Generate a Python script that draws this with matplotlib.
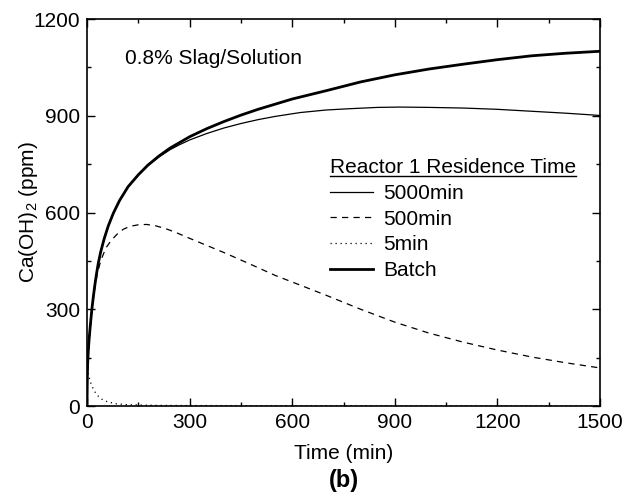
import matplotlib
matplotlib.use("Agg")
import matplotlib.pyplot as plt
from matplotlib.lines import Line2D

plt.rcParams['font.family'] = ['Liberation Sans', 'DejaVu Sans']
plt.rcParams['mathtext.default'] = 'regular'

# values (time in min, Ca(OH)2 in ppm)
t_batch = [0, 1, 2, 4, 6, 8, 11, 14, 18, 22, 27, 33, 40, 50, 62, 77, 95, 120,
           150, 178, 210, 243, 300, 350, 400, 450, 500, 550, 600, 700, 800,
           900, 1000, 1100, 1200, 1300, 1400, 1500]
c_batch = [0, 100, 135, 175, 205, 230, 265, 298, 335, 368, 405, 443, 478, 518,
           558, 598, 637, 680, 717, 747, 775, 800, 835, 860, 882, 902, 920,
           936, 952, 978, 1005, 1027, 1045, 1060, 1074, 1086, 1094, 1100]

t_5000 = [0, 1, 2, 4, 6, 8, 11, 14, 18, 22, 27, 33, 40, 50, 62, 77, 95, 120,
          150, 178, 210, 243, 270, 300, 350, 400, 450, 500, 550, 623, 700,
          769, 850, 915, 1000, 1100, 1200, 1300, 1400, 1500]
c_5000 = [0, 100, 135, 175, 205, 230, 265, 298, 335, 368, 405, 443, 478, 518,
          558, 598, 637, 680, 716, 745, 772, 795, 810, 825, 845, 862, 876,
          888, 898, 910, 918, 922, 926, 927, 926, 924, 920, 914, 908, 901]

t_500 = [0, 2, 5, 10, 15, 22, 30, 40, 55, 72, 90, 106, 125, 150, 174, 200,
         230, 260, 300, 350, 400, 477, 550, 623, 700, 800, 900, 1000, 1100,
         1198, 1300, 1400, 1500]
c_500 = [0, 120, 185, 250, 300, 360, 410, 450, 490, 515, 535, 548, 557, 562,
         563, 559, 550, 538, 520, 498, 476, 440, 405, 375, 343, 300, 260, 226,
         198, 174, 152, 134, 118]

t_5 = [0, 1, 2, 3, 5, 8, 12, 18, 25, 35, 45, 60, 85, 120, 200, 300, 600,
       1000, 1500]
c_5 = [0, 80, 105, 105, 95, 82, 68, 54, 40, 28, 20, 13, 7, 4, 2, 1.5, 1,
       0.7, 0.5]

fig = plt.figure(figsize=(6.31, 5.01), dpi=100)
ax = fig.add_axes([0.1379, 0.1896, 0.8131, 0.7724])

ax.plot(t_5000, c_5000, color='black', lw=0.9, label='5000min')
ax.plot(t_500, c_500, color='black', lw=0.9, ls=(0, (5, 4.2)), label='500min')
ax.plot(t_5, c_5, color='black', lw=0.9, ls=(0, (1, 3)), label='5min')
ax.plot(t_batch, c_batch, color='black', lw=2.0, label='Batch')

ax.set_xlim(0, 1500)
ax.set_ylim(0, 1200)
ax.set_xticks([0, 300, 600, 900, 1200, 1500])
ax.set_xticks(range(150, 1500, 300), minor=True)
ax.set_yticks([0, 300, 600, 900, 1200])
ax.set_yticks(range(150, 1200, 300), minor=True)
ax.tick_params(which='both', direction='in', top=True, right=True,
               labelsize=15, width=1.0)
ax.tick_params(which='major', length=6, pad=5)
ax.tick_params(which='minor', length=3)
for s in ax.spines.values():
    s.set_linewidth(1.2)

ax.set_xlabel('Time (min)', fontsize=15, labelpad=9)
ax.set_ylabel('Ca(OH)$_2$ (ppm)', fontsize=15)
ax.yaxis.set_label_coords(-0.092, 0.5)
fig.text(0.5444, 0.04, '(b)', fontsize=17, fontweight='bold', ha='center', va='center')

ax.text(0.074, 0.899, '0.8% Slag/Solution', transform=ax.transAxes,
        fontsize=15, va='center', ha='left')

leg = ax.legend(loc='upper left', bbox_to_anchor=(0.474, 0.640), frameon=False,
                fontsize=15, title='Reactor 1 Residence Time',
                title_fontsize=15, handlelength=2.07, handletextpad=0.48,
                labelspacing=0.32, borderpad=0, borderaxespad=0,
                alignment='left')

# underline the legend title
fig.canvas.draw()
bb = leg.get_title().get_window_extent().transformed(fig.transFigure.inverted())
fig.add_artist(Line2D([bb.x0, bb.x1], [bb.y0 + 0.003, bb.y0 + 0.003],
                      color='black', lw=1.0, transform=fig.transFigure))

fig.savefig('out.png', dpi=100)
